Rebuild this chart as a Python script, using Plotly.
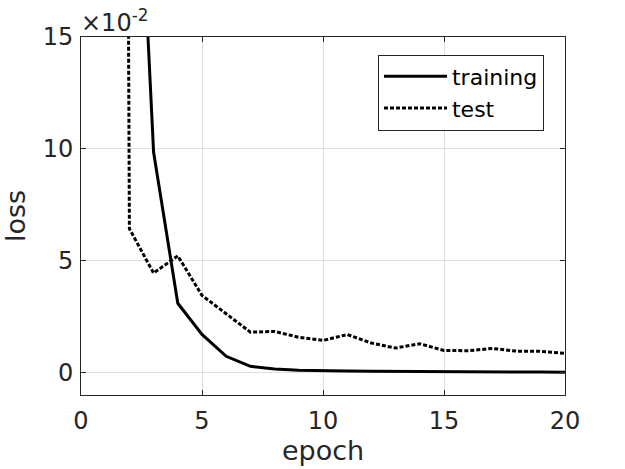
"""Training / test loss curves per epoch (MATLAB-style line plot)."""

import plotly.graph_objects as go

epochs = list(range(1, 21))
training_loss = [1.20, 0.320, 0.0985, 0.0310, 0.0171, 0.0073, 0.0028, 0.0016, 0.0011, 0.0008,
                 0.0007, 0.0006, 0.0005, 0.0005, 0.0004, 0.0004, 0.0003, 0.0003, 0.0003, 0.0002]
test_loss = [2.50, 0.0643, 0.0445, 0.0522, 0.0345, 0.0263, 0.0181, 0.0184, 0.0158, 0.0144,
             0.0170, 0.0132, 0.0110, 0.0129, 0.0099, 0.0098, 0.0108, 0.0096, 0.0095, 0.0086]

y_ticks = [0, 0.05, 0.10, 0.15]
y_tick_text = ["0", "5", "10", "15"]
x_ticks = [0, 5, 10, 15, 20]

INK = "#262626"
GRID = "#dfdfdf"
FONT = "DejaVu Sans"

fig = go.Figure()
fig.add_trace(go.Scatter(x=epochs, y=training_loss, mode="lines", name="training",
                         line=dict(color="black", width=3)))
fig.add_trace(go.Scatter(x=epochs, y=test_loss, mode="lines", name="test",
                         line=dict(color="black", width=3, dash="4px,2px")))

axis_common = dict(
    showline=True, linecolor=INK, linewidth=1, mirror="ticks",
    ticks="inside", ticklen=5, tickcolor=INK,
    showgrid=True, gridcolor=GRID, gridwidth=1, zeroline=False,
    tickfont=dict(family=FONT, size=24, color=INK),
    automargin=False,
)

fig.update_xaxes(range=[0, 20], tickvals=x_ticks, ticklabelstandoff=4,
                 title=dict(text="epoch", font=dict(family=FONT, size=27, color=INK), standoff=4),
                 **axis_common)
fig.update_yaxes(range=[-0.01, 0.15], tickvals=y_ticks, ticktext=y_tick_text, ticklabelstandoff=2,
                 title=dict(text="loss", font=dict(family=FONT, size=27, color=INK), standoff=9),
                 **axis_common)

fig.add_annotation(text="×10<sup>-2</sup>", xref="paper", yref="paper", x=0, y=1,
                   xanchor="left", yanchor="bottom", showarrow=False, xshift=-2, yshift=-2,
                   font=dict(family=FONT, size=24, color=INK))

fig.update_layout(
    width=625, height=469,
    margin=dict(l=81, r=60, t=37, b=74),
    paper_bgcolor="white", plot_bgcolor="white",
    font=dict(family=FONT, color=INK),
    showlegend=True,
    legend=dict(x=0.6136, y=0.951, xanchor="left", yanchor="top",
                bgcolor="white", bordercolor=INK, borderwidth=1,
                font=dict(family=FONT, size=22, color="black"),
                itemwidth=63, tracegroupgap=0),
)

# drop the default 8px body margin so the figure sits at the window's corner
fig.write_html("out.html", config={"displayModeBar": False},
               post_script="document.body.style.margin = '0';")
